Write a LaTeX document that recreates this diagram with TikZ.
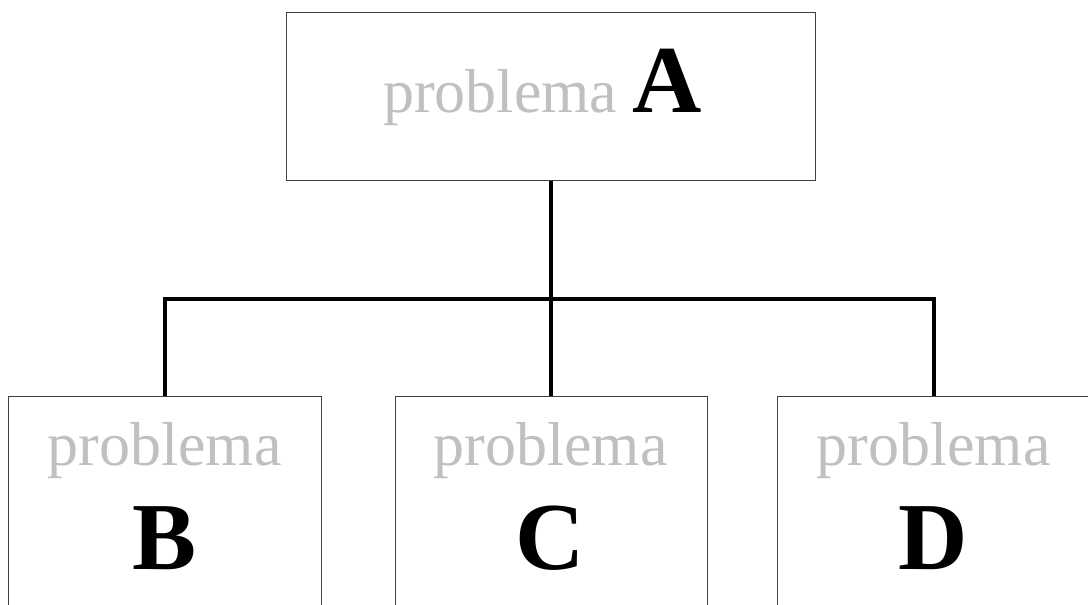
\documentclass[tikz,border=0pt]{standalone}
\usepackage{fontspec}
\setmainfont{Liberation Serif}
\definecolor{txtgray}{HTML}{C0C0C0}
\definecolor{boxline}{HTML}{404040}
\begin{document}
\begin{tikzpicture}[x=1pt,y=-1pt,
 box/.style={draw=boxline, line width=1.4pt, inner sep=0pt, anchor=north west},
 conn/.style={line width=4pt, black},
 word/.style={text=txtgray, font=\fontsize{62}{62}\selectfont, inner sep=0pt},
 letter/.style={text=black, font=\fontsize{96}{96}\selectfont\bfseries, inner sep=0pt}]
\clip (0,0) rectangle (1088,605);
\fill[white] (0,0) rectangle (1088,605);
\node[box, minimum width=529pt, minimum height=168pt] (A) at (286,12) {};
\node[box, minimum width=313pt, minimum height=230pt] (B) at (8,396) {};
\node[box, minimum width=312pt, minimum height=230pt] (C) at (394.5,396) {};
\node[box, minimum width=313pt, minimum height=230pt] (D) at (777,396) {};
\coordinate (bus) at (550.5,299);
\draw[conn] (A.south) -- (C.north);
\draw[conn] (B.north) -- (B.north |- bus) -- (D.north |- bus) -- (D.north);
\node[word, anchor=base west] (wA) at (383,112) {problema};
\node[letter, anchor=base west] (lA) at (632,112) {A};
\node[word, anchor=base] (wB) at (164.5,465) {problema};
\node[letter, anchor=base] (lB) at (164.5,569) {B};
\node[word, anchor=base] (wC) at (550.5,465) {problema};
\node[letter, anchor=base] (lC) at (550.5,569) {C};
\node[word, anchor=base] (wD) at (933.5,465) {problema};
\node[letter, anchor=base] (lD) at (933.5,569) {D};
\end{tikzpicture}
\end{document}
